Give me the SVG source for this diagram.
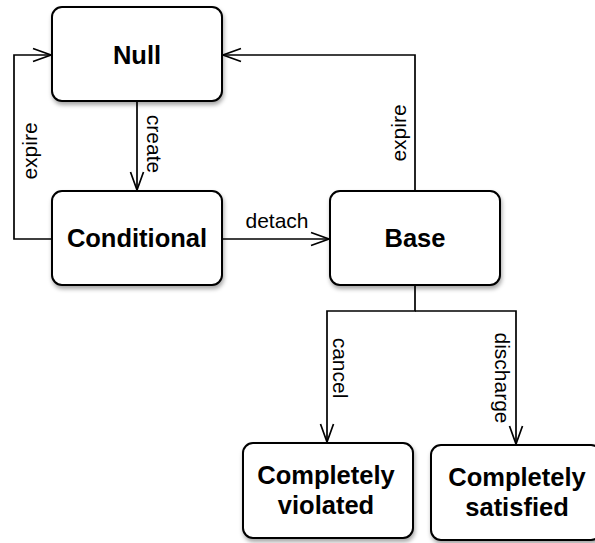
<svg xmlns="http://www.w3.org/2000/svg" width="595" height="543" viewBox="0 0 595 543">
<style>
.box{fill:#fff;stroke:#000;stroke-width:2;filter:url(#sh)}
.nl{font-family:"Liberation Sans",Arial,Helvetica,sans-serif;font-weight:bold;font-size:25.5px;text-anchor:middle;fill:#000}
.el{font-family:"Liberation Sans",Arial,Helvetica,sans-serif;font-size:21px;text-anchor:middle;fill:#000}
.c{fill:none;stroke:#000;stroke-width:1.7}
</style>
<defs>
<filter id="sh" x="-10%" y="-10%" width="130%" height="130%">
<feDropShadow dx="1" dy="3" stdDeviation="2" flood-color="#000" flood-opacity="0.35"/>
</filter>
<marker id="a" markerUnits="userSpaceOnUse" markerWidth="24" markerHeight="20" refX="20" refY="10" orient="auto" viewBox="0 0 24 20">
<path d="M2 3.5 L20 10 L2 16.5" fill="none" stroke="#000" stroke-width="1.7"/>
</marker>
</defs>
<g id="connectors">
<path class="c" d="M137 102 L137 190" marker-end="url(#a)"/>
<path class="c" d="M222 239 L329 239" marker-end="url(#a)"/>
<path class="c" d="M52 239 L14 239 L14 55 L51 55" marker-end="url(#a)"/>
<path class="c" d="M415 191 L415 55 L223 55" marker-end="url(#a)"/>
<path class="c" d="M415 286 L415 311 L327 311 L327 442" marker-end="url(#a)"/>
<path class="c" d="M415 311 L516 311 L516 444" marker-end="url(#a)"/>
<text class="el" transform="translate(147,144) rotate(90)">create</text>
<text class="el" transform="translate(37,151) rotate(-90)">expire</text>
<text class="el" transform="translate(406,133) rotate(-90)">expire</text>
<text class="el" x="277" y="228">detach</text>
<text class="el" transform="translate(333,368) rotate(90)">cancel</text>
<text class="el" transform="translate(495,378) rotate(90)">discharge</text>
</g>
<g id="null">
<rect class="box" x="52" y="7" width="170" height="94" rx="10"/>
<text class="nl" x="137" y="64">Null</text>
</g>
<g id="conditional">
<rect class="box" x="52" y="191" width="170" height="94" rx="10"/>
<text class="nl" x="137" y="247">Conditional</text>
</g>
<g id="base">
<rect class="box" x="330" y="191" width="170" height="94" rx="10"/>
<text class="nl" x="415" y="247">Base</text>
</g>
<g id="violated">
<rect class="box" x="243" y="443" width="170" height="95" rx="10"/>
<text class="nl" x="326" y="484">Completely</text>
<text class="nl" x="326" y="514">violated</text>
</g>
<g id="satisfied">
<rect class="box" x="431" y="445" width="170" height="95" rx="10"/>
<text class="nl" x="517" y="486">Completely</text>
<text class="nl" x="517" y="516">satisfied</text>
</g>
</svg>
